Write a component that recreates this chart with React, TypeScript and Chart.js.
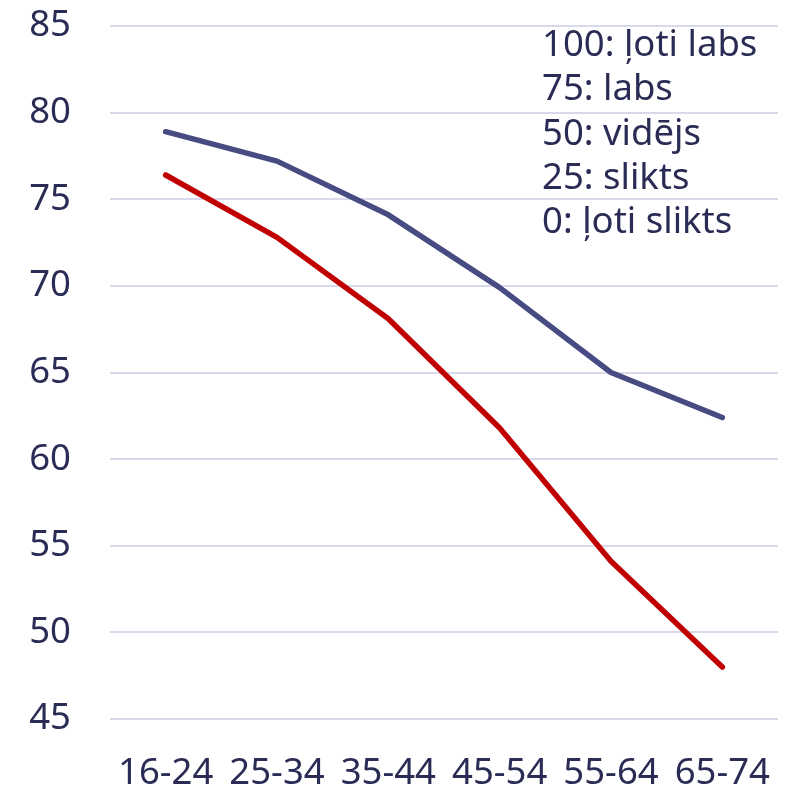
import React, { useEffect, useRef } from "react";
import { Chart, registerables } from "chart.js";

Chart.register(...registerables);

const categories = ["16-24", "25-34", "35-44", "45-54", "55-64", "65-74"];
const seriesBlue = [78.9, 77.2, 74.1, 69.9, 65.0, 62.4];
const seriesRed = [76.4, 72.8, 68.1, 61.8, 54.1, 48.0];
const noteLines = ["100: ļoti labs", "75: labs", "50: vidējs", "25: slikts", "0: ļoti slikts"];
const yMin = 45;
const yMax = 85;
const yStep = 5;

const FONT = "'Noto Sans', 'Open Sans', sans-serif";
const TEXT = "#2b2c55";
const FS = 36.5;

export default function App() {
  const ref = useRef<HTMLCanvasElement | null>(null);
  useEffect(() => {
    document.body.style.margin = "0";
    const notePlugin = {
      id: "notes",
      afterDraw(chart: any) {
        const ctx = chart.ctx;
        ctx.save();
        ctx.fillStyle = TEXT;
        ctx.font = `${FS}px ${FONT}`;
        ctx.textAlign = "left";
        ctx.textBaseline = "alphabetic";
        noteLines.forEach((t, i) => {
          ctx.fillText(t, 542, 56 + i * 44.3);
        });
        ctx.restore();
      },
    };
    const chart = new Chart(ref.current!, {
      type: "line",
      data: {
        labels: categories,
        datasets: [
          {
            data: seriesBlue,
            borderColor: "#464b82",
            borderWidth: 5.5,
            pointRadius: 0,
            borderCapStyle: "round",
            borderJoinStyle: "round",
            tension: 0,
          },
          {
            data: seriesRed,
            borderColor: "#c00000",
            borderWidth: 5.5,
            pointRadius: 0,
            borderCapStyle: "round",
            borderJoinStyle: "round",
            tension: 0,
          },
        ],
      },
      options: {
        animation: false,
        responsive: false,
        layout: { padding: { top: 26, right: 17, left: 0, bottom: 0 } },
        plugins: { legend: { display: false }, tooltip: { enabled: false } },
        scales: {
          x: {
            offset: true,
            grid: { display: false, drawTicks: false },
            border: { display: false },
            ticks: { color: TEXT, font: { family: FONT, size: FS }, padding: 33, maxRotation: 0, autoSkip: false },
            afterFit: (s: any) => { s.height = 74; s.paddingLeft = 0; s.paddingRight = 0; },
          },
          y: {
            min: yMin,
            max: yMax,
            grid: { color: "#d9d9ec", lineWidth: 2, drawTicks: false },
            border: { display: false },
            ticks: { stepSize: yStep, color: TEXT, font: { family: FONT, size: FS }, padding: 39 },
            afterFit: (s: any) => { s.width = 110; s.paddingTop = 0; s.paddingBottom = 0; },
          },
        },
      },
      plugins: [notePlugin],
    });
    return () => chart.destroy();
  }, []);
  return (
    <div style={{ width: 795, height: 793 }}>
      <canvas ref={ref} width={795} height={793} style={{ display: "block" }} />
    </div>
  );
}
